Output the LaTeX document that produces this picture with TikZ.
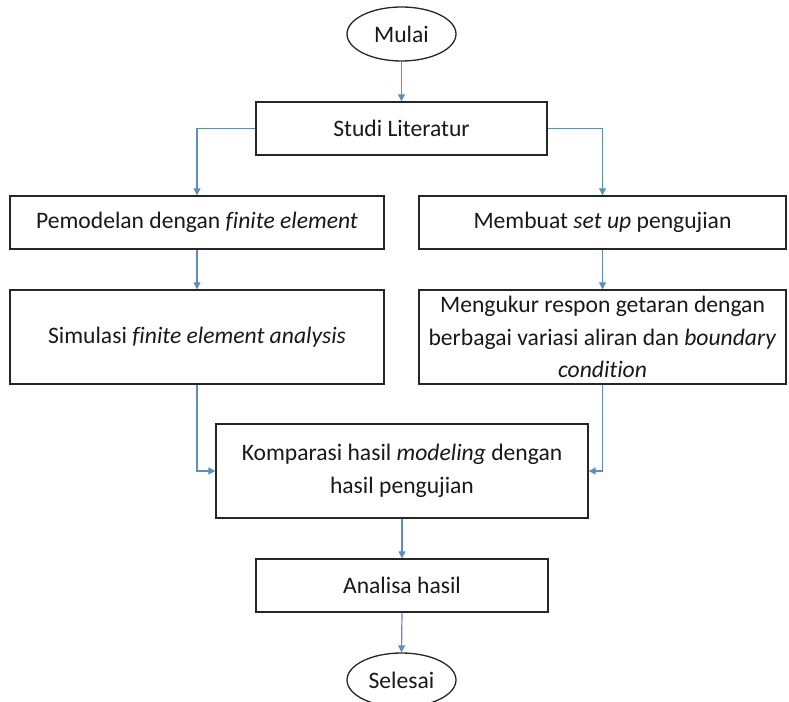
\documentclass[tikz,border=0pt]{standalone}
\usepackage{fontspec}
\setmainfont{Carlito}[Ligatures=NoCommon]
\usetikzlibrary{arrows.meta,shapes.geometric}
\definecolor{arrowblue}{RGB}{91,143,196}
\definecolor{boxline}{RGB}{38,38,38}
\definecolor{txt}{RGB}{25,25,25}
\tikzset{
  stepbox/.style={draw=boxline, line width=1.4pt, rectangle, align=center, inner sep=2pt, text=txt, fill=white},
  termbox/.style={draw=boxline, line width=1.3pt, ellipse, inner sep=0pt, text=txt, minimum width=109pt, minimum height=54pt},
  conn/.style={draw=arrowblue, line width=1.2pt, -{Triangle[width=7pt,length=7pt]}}
}
\begin{document}
\begin{tikzpicture}[x=1pt,y=-1pt, font=\fontsize{23.6}{32.5}\selectfont]
\path[fill=white] (0,0) rectangle (789,701);
\useasboundingbox (0,0) rectangle (789,701);

\node[termbox] (mulai) at (401.5,34) {Mulai};
\node[stepbox, minimum width=291pt, minimum height=53pt] (studi) at (401.5,128.5) {Studi Literatur};
\node[stepbox, minimum width=374pt, minimum height=53pt] (left1) at (197,222.5) {Pemodelan dengan \textit{finite element}};
\node[stepbox, minimum width=367pt, minimum height=53pt] (right1) at (602.5,222.5) {Membuat \textit{set up} pengujian};
\node[stepbox, minimum width=374pt, minimum height=94pt] (left2) at (197,337) {Simulasi \textit{finite element analysis}};
\node[stepbox, minimum width=367pt, minimum height=94pt, inner sep=0pt] (right2) at (602.5,337) {Mengukur respon getaran dengan\\berbagai variasi aliran dan \textit{boundary}\\\textit{condition}};
\node[stepbox, minimum width=372pt, minimum height=94pt] (komp) at (402,471) {Komparasi hasil \textit{modeling} dengan\\hasil pengujian};
\node[stepbox, minimum width=292pt, minimum height=53pt] (anal) at (402,585.5) {Analisa hasil};
\node[termbox] (selesai) at (401.5,680) {Selesai};

\draw[conn] (mulai.south) -- (studi.north);
\draw[conn] (studi.west) -| (left1.north);
\draw[conn] (studi.east) -| (right1.north);
\draw[conn] (left1.south) -- (left2.north);
\draw[conn] (right1.south) -- (right2.north);
\draw[conn] (left2.south) |- (komp.west);
\draw[conn] (right2.south) |- (komp.east);
\draw[conn] (komp.south) -- (anal.north);
\draw[conn] (anal.south) -- (selesai.north);
\end{tikzpicture}
\end{document}
